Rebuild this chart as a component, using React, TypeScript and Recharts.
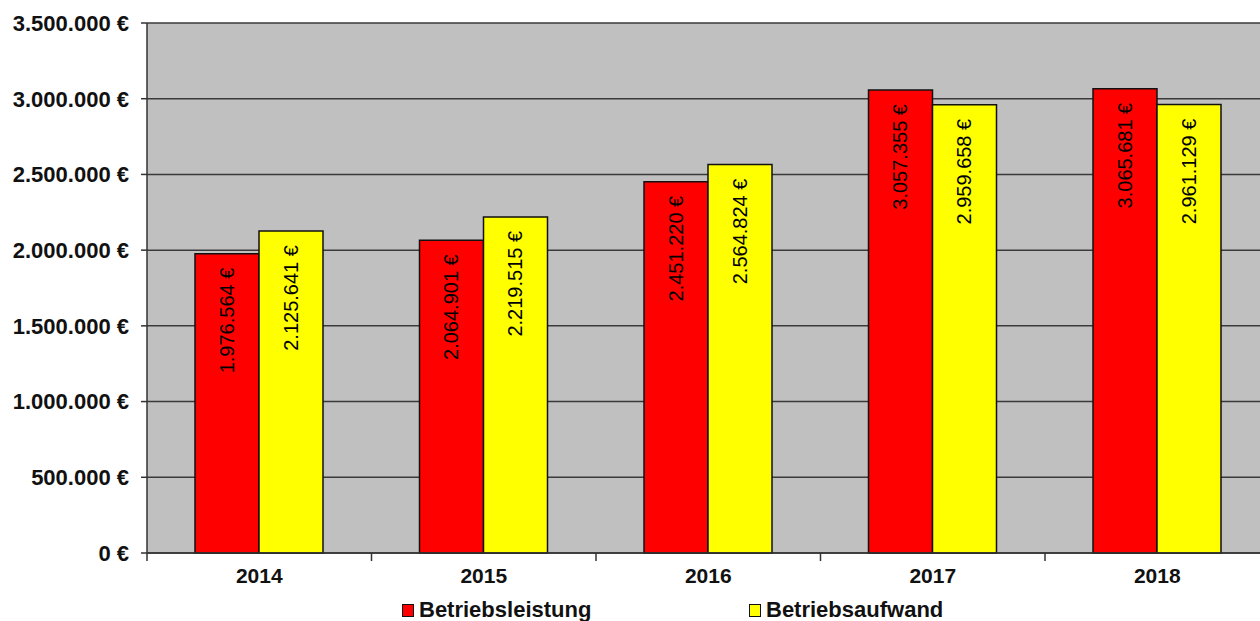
import React from 'react';
import { BarChart, Bar, XAxis, YAxis, CartesianGrid, Legend, LabelList } from 'recharts';

const years = ['2014', '2015', '2016', '2017', '2018'];
const betriebsleistung = [1976564, 2064901, 2451220, 3057355, 3065681];
const betriebsaufwand = [2125641, 2219515, 2564824, 2959658, 2961129];
const yTicks = [0, 500000, 1000000, 1500000, 2000000, 2500000, 3000000, 3500000];

const data = years.map((year, i) => ({
  year,
  leistung: betriebsleistung[i],
  aufwand: betriebsaufwand[i],
}));

const FONT = '"Liberation Sans", Arial, Helvetica, sans-serif';
const CHART_W = 1290;
const CHART_H = 621;
const MARGIN = { top: 23, right: 20.5, bottom: 0, left: 0 };
const Y_AXIS_W = 147;
const BAND = (CHART_W - MARGIN.left - MARGIN.right - Y_AXIS_W) / years.length;

// German thousands separator: 1976564 -> "1.976.564"
const fmtNumber = (v: number) => String(Math.round(v)).replace(/\B(?=(\d{3})+(?!\d))/g, '.');
const fmtEuro = (v: number) => `${fmtNumber(v)} €`;

const ValueLabel = (props: any) => {
  const { x, y, width, value } = props;
  const cx = Number(x) + Number(width) / 2;
  const ty = Number(y) + 14;
  return (
    <text
      x={cx}
      y={ty}
      transform={`rotate(-90 ${cx} ${ty})`}
      textAnchor="end"
      dominantBaseline="central"
      fontSize={20}
      fontFamily={FONT}
      fill="#000"
    >
      {fmtEuro(Number(value))}
    </text>
  );
};

// Category label in the middle of each band, tick marks on the band edges.
const YearTick = (props: any) => {
  const { x, y, payload, index } = props;
  const left = x - BAND / 2;
  const right = x + BAND / 2;
  return (
    <g>
      <line x1={left} y1={y - 8} x2={left} y2={y} stroke="#333" strokeWidth={1.5} />
      {index === years.length - 1 && (
        <line x1={right} y1={y - 8} x2={right} y2={y} stroke="#333" strokeWidth={1.5} />
      )}
      <text
        x={x}
        y={y + 14}
        textAnchor="middle"
        dominantBaseline="central"
        fontSize={21}
        fontWeight="bold"
        fontFamily={FONT}
        fill="#111"
      >
        {payload.value}
      </text>
    </g>
  );
};

const LegendBox = () => (
  <div style={{ position: 'relative', height: 38, width: CHART_W, fontFamily: FONT }}>
    {[
      { name: 'Betriebsleistung', color: '#FF0000', left: 402 },
      { name: 'Betriebsaufwand', color: '#FFFF00', left: 749 },
    ].map((item) => (
      <div
        key={item.name}
        style={{ position: 'absolute', left: item.left, top: 16, display: 'flex', alignItems: 'center' }}
      >
        <span
          style={{
            display: 'inline-block',
            width: 10,
            height: 11,
            background: item.color,
            border: '1.5px solid #111',
            marginRight: 5,
          }}
        />
        <span style={{ fontSize: 22, fontWeight: 'bold', color: '#111', lineHeight: '22px' }}>{item.name}</span>
      </div>
    ))}
  </div>
);

export default function App() {
  return (
    <div
      style={{
        position: 'absolute',
        left: 0,
        top: 0,
        width: 1260,
        height: 621,
        overflow: 'hidden',
        background: '#fff',
      }}
    >
      <BarChart width={CHART_W} height={CHART_H} data={data} margin={MARGIN} barSize={64} barGap={0}>
        <CartesianGrid
          vertical={false}
          stroke="#3a3a3a"
          strokeWidth={1.5}
          fill="#C0C0C0"
          fillOpacity={1}
        />
        <XAxis
          dataKey="year"
          height={30}
          axisLine={{ stroke: '#333', strokeWidth: 1.5 }}
          tickLine={false}
          tick={<YearTick />}
          interval={0}
        />
        <YAxis
          width={Y_AXIS_W}
          domain={[0, 3500000]}
          ticks={yTicks}
          interval={0}
          tickFormatter={fmtEuro}
          axisLine={{ stroke: '#333', strokeWidth: 1.5 }}
          tickLine={{ stroke: '#333', strokeWidth: 1.5 }}
          tickSize={6}
          tickMargin={12}
          tick={{ fontSize: 22, fontWeight: 'bold', fontFamily: FONT, fill: '#111' }}
        />
        <Legend verticalAlign="bottom" height={38} content={<LegendBox />} />
        <Bar dataKey="leistung" name="Betriebsleistung" fill="#FF0000" stroke="#111" strokeWidth={1.5} isAnimationActive={false}>
          <LabelList dataKey="leistung" content={<ValueLabel />} />
        </Bar>
        <Bar dataKey="aufwand" name="Betriebsaufwand" fill="#FFFF00" stroke="#111" strokeWidth={1.5} isAnimationActive={false}>
          <LabelList dataKey="aufwand" content={<ValueLabel />} />
        </Bar>
      </BarChart>
    </div>
  );
}
